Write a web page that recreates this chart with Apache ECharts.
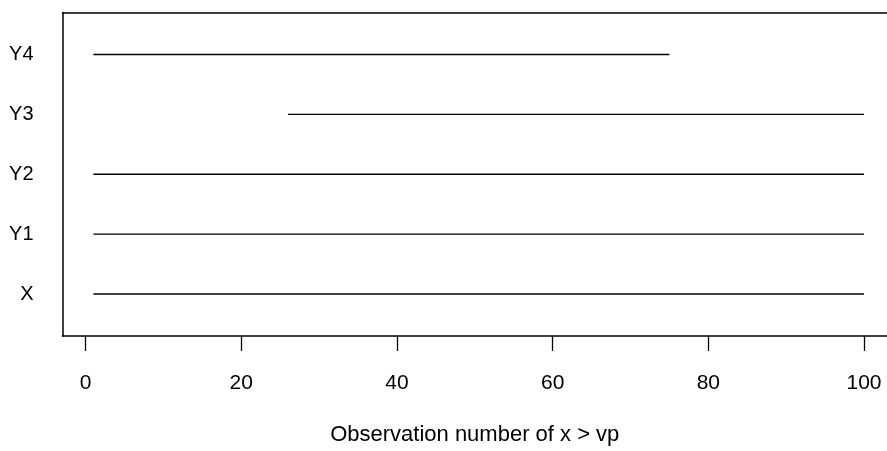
<!DOCTYPE html>
<html>
<head>
<meta charset="utf-8">
<script src="https://cdn.jsdelivr.net/npm/echarts@6/dist/echarts.min.js"></script>
<style>html,body{margin:0;padding:0;background:#fff;}#c{width:887px;height:451px;}</style>
</head>
<body>
<div id="c"></div>
<script>
const categories = ['X', 'Y1', 'Y2', 'Y3', 'Y4'];
const startObs = [1, 1, 1, 26, 1];
const endObs = [100, 100, 100, 100, 75];
const xTicks = [0, 20, 40, 60, 80, 100];
const xTitle = 'Observation number of x > vp';

const chart = echarts.init(document.getElementById('c'), null, {renderer: 'canvas'});
const FONT = 'Liberation Sans, Arial, Helvetica, sans-serif';
const XMIN = -2.96, XMAX = 102.95;
const series = categories.map((name, i) => ({
  name: name,
  type: 'line',
  symbol: 'none',
  silent: true,
  animation: false,
  lineStyle: {color: '#000', width: 1.4},
  data: [[startObs[i], i + 1], [endObs[i], i + 1]]
}));

chart.setOption({
  animation: false,
  backgroundColor: '#fff',
  grid: {left: 62.5, top: 12.5, bottom: 114, right: 0, show: false},
  xAxis: [{
    type: 'value', min: XMIN, max: XMAX, position: 'bottom',
    splitLine: {show: false},
    axisLine: {show: true, onZero: false, lineStyle: {color: '#000', width: 1.5}},
    axisTick: {show: true, length: 15, inside: false, customValues: xTicks, lineStyle: {color: '#000', width: 1.3}},
    axisLabel: {show: true, customValues: xTicks, margin: 37, color: '#000', fontSize: 21, fontFamily: FONT},
    name: xTitle, nameLocation: 'middle', nameGap: 88,
    nameTextStyle: {color: '#000', fontSize: 22, fontFamily: FONT}
  }, {
    type: 'value', min: XMIN, max: XMAX, position: 'top',
    splitLine: {show: false},
    axisLine: {show: true, onZero: false, lineStyle: {color: '#000', width: 1.5}},
    axisTick: {show: false},
    axisLabel: {show: false}
  }],
  yAxis: {
    type: 'value', min: 0.3, max: 5.7, position: 'left',
    splitLine: {show: false},
    axisLine: {show: true, onZero: false, lineStyle: {color: '#000', width: 1.5}},
    axisTick: {show: false},
    axisLabel: {
      show: true, customValues: [1, 2, 3, 4, 5], margin: 29, color: '#000', fontSize: 20, fontFamily: FONT,
      formatter: v => categories[Math.round(v) - 1]
    }
  },
  series: series
});
</script>
</body>
</html>
